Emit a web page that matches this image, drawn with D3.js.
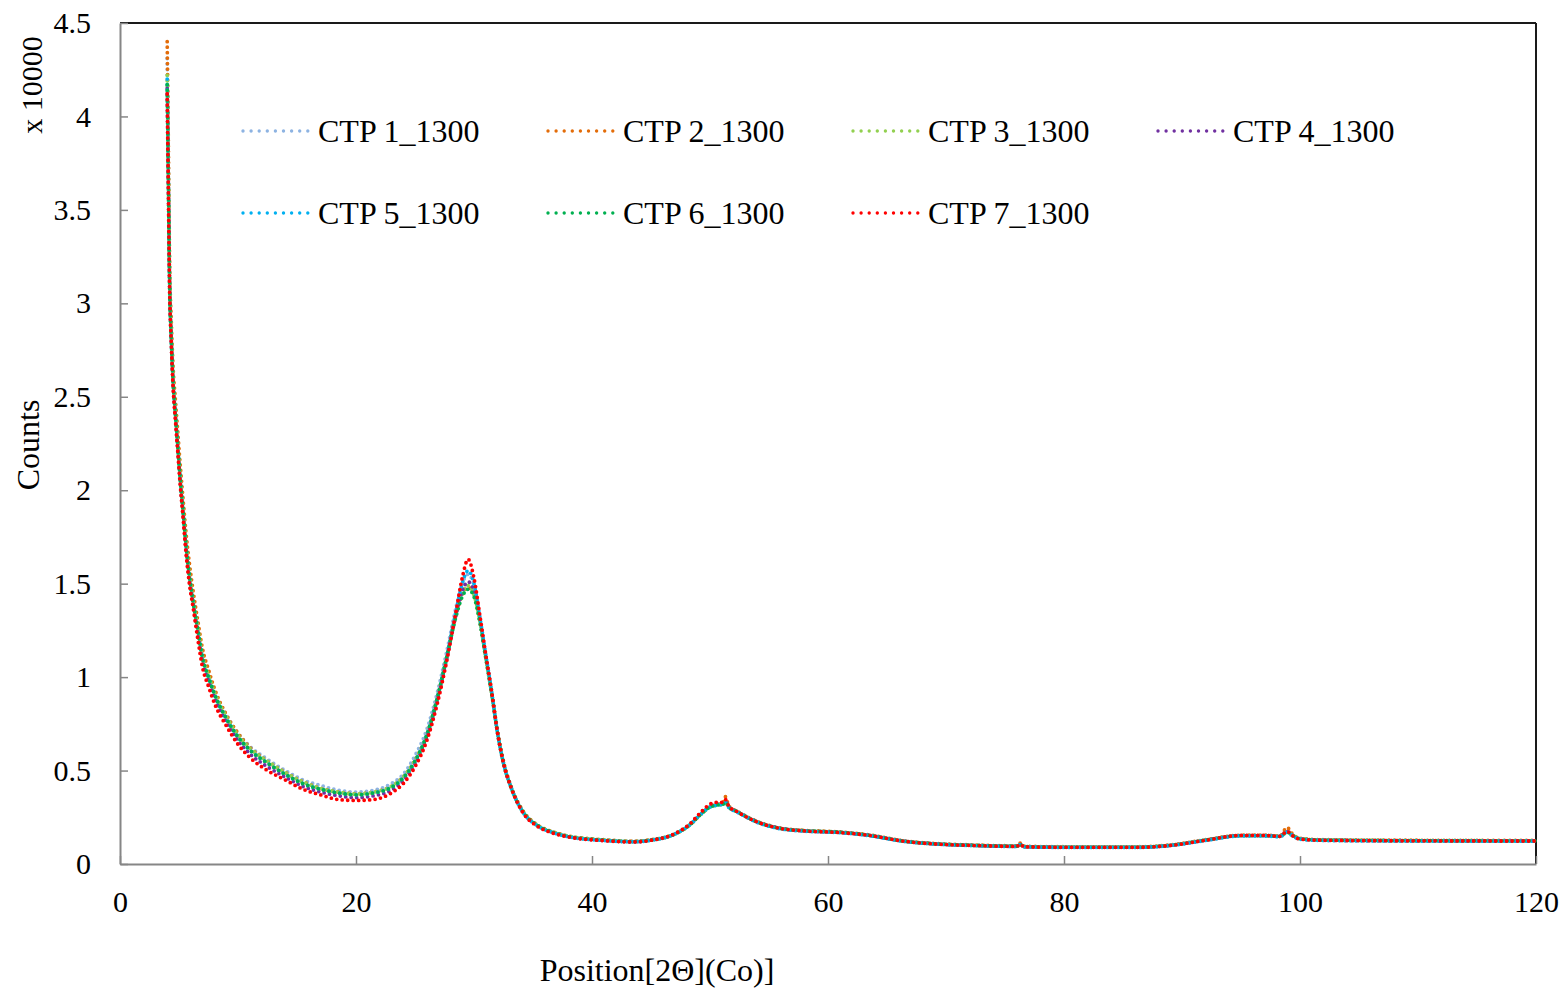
<!DOCTYPE html>
<html>
<head>
<meta charset="utf-8">
<script src="https://cdn.jsdelivr.net/npm/d3@7"></script>
<style>
  html, body { margin: 0; padding: 0; background: #fff; }
  svg { display: block; }
  text { font-family: "Times New Roman", "Liberation Serif", serif; fill: #000; }
</style>
</head>
<body>
<svg id="chart" width="1566" height="989"></svg>
<script>
// Diffraction angle 2θ (Co radiation), degrees
const twoTheta = [4.0, 4.1, 4.2, 4.35, 4.5, 4.7, 4.9, 5.1, 5.35, 5.6,
  5.9, 6.2, 6.6, 7.0, 7.5, 8, 9, 10, 11, 12.5,
  14, 15.5, 17, 18.5, 20, 21.5, 23, 24, 25, 26,
  26.9, 27.7, 28.5, 29.0, 29.5, 30.0, 30.5, 31, 31.5, 32,
  32.5, 33.2, 34.2, 35.3, 36.7, 38, 41, 43.5, 45, 47,
  48.3, 49.2, 50, 50.6, 51.1, 51.3, 51.6, 52.3, 54, 56,
  58, 61, 63, 66.7, 70, 72.3, 76, 76.3, 76.6, 81,
  86, 89, 92, 95, 97, 98.3, 98.9, 99.4, 100, 102,
  110, 120];

// Counts (x 10000) for each sample
const ctp1 = [4.31, 3.72, 3.16, 2.82, 2.60, 2.42, 2.25, 2.08, 1.90, 1.72,
  1.55, 1.42, 1.27, 1.12, 1.02, 0.93, 0.80, 0.70, 0.63, 0.56,
  0.50, 0.45, 0.42, 0.395, 0.385, 0.395, 0.43, 0.48, 0.58, 0.72,
  0.92, 1.14, 1.38, 1.50, 1.55, 1.49, 1.31, 1.11, 0.91, 0.70,
  0.54, 0.40, 0.275, 0.21, 0.17, 0.148, 0.128, 0.12, 0.128, 0.16,
  0.21, 0.265, 0.305, 0.315, 0.32, 0.335, 0.305, 0.28, 0.225, 0.19,
  0.178, 0.17, 0.158, 0.12, 0.105, 0.10, 0.095, 0.105, 0.093, 0.09,
  0.09, 0.10, 0.128, 0.152, 0.152, 0.148, 0.175, 0.152, 0.135, 0.128,
  0.125, 0.124];

const ctp2 = [4.40, 3.85, 3.25, 2.90, 2.66, 2.48, 2.31, 2.14, 1.95, 1.77,
  1.60, 1.46, 1.30, 1.15, 1.04, 0.94, 0.80, 0.70, 0.625, 0.55,
  0.49, 0.44, 0.405, 0.385, 0.375, 0.385, 0.415, 0.465, 0.555, 0.69,
  0.89, 1.11, 1.34, 1.44, 1.48, 1.44, 1.30, 1.11, 0.92, 0.71,
  0.55, 0.405, 0.28, 0.212, 0.172, 0.15, 0.13, 0.122, 0.13, 0.16,
  0.21, 0.265, 0.305, 0.318, 0.325, 0.36, 0.31, 0.282, 0.228, 0.192,
  0.18, 0.172, 0.16, 0.122, 0.107, 0.102, 0.097, 0.112, 0.095, 0.092,
  0.092, 0.102, 0.13, 0.154, 0.154, 0.15, 0.195, 0.158, 0.137, 0.13,
  0.127, 0.126];

const ctp3 = [4.22, 3.68, 3.14, 2.81, 2.59, 2.41, 2.24, 2.07, 1.89, 1.71,
  1.54, 1.41, 1.26, 1.11, 1.01, 0.92, 0.79, 0.69, 0.62, 0.55,
  0.49, 0.44, 0.405, 0.385, 0.375, 0.385, 0.415, 0.465, 0.555, 0.69,
  0.89, 1.11, 1.34, 1.45, 1.49, 1.44, 1.30, 1.10, 0.91, 0.70,
  0.54, 0.40, 0.275, 0.21, 0.17, 0.148, 0.128, 0.12, 0.128, 0.16,
  0.21, 0.265, 0.305, 0.315, 0.32, 0.33, 0.305, 0.28, 0.225, 0.19,
  0.178, 0.17, 0.158, 0.12, 0.105, 0.10, 0.095, 0.105, 0.093, 0.09,
  0.09, 0.10, 0.128, 0.152, 0.152, 0.148, 0.17, 0.152, 0.135, 0.128,
  0.125, 0.124];

const ctp4 = [4.15, 3.63, 3.11, 2.79, 2.57, 2.39, 2.22, 2.05, 1.87, 1.68,
  1.51, 1.39, 1.23, 1.08, 0.98, 0.89, 0.76, 0.66, 0.59, 0.52,
  0.465, 0.415, 0.385, 0.365, 0.355, 0.365, 0.395, 0.445, 0.535, 0.675,
  0.875, 1.10, 1.34, 1.46, 1.51, 1.46, 1.31, 1.11, 0.92, 0.70,
  0.54, 0.40, 0.272, 0.208, 0.168, 0.146, 0.126, 0.119, 0.127, 0.16,
  0.212, 0.27, 0.31, 0.322, 0.325, 0.335, 0.305, 0.28, 0.225, 0.19,
  0.177, 0.169, 0.157, 0.12, 0.104, 0.099, 0.094, 0.104, 0.092, 0.089,
  0.089, 0.099, 0.127, 0.152, 0.152, 0.148, 0.172, 0.151, 0.134, 0.127,
  0.124, 0.123];

const ctp5 = [4.20, 3.66, 3.13, 2.80, 2.58, 2.40, 2.23, 2.06, 1.88, 1.70,
  1.53, 1.40, 1.25, 1.10, 1.00, 0.91, 0.78, 0.68, 0.61, 0.54,
  0.48, 0.43, 0.40, 0.38, 0.37, 0.38, 0.41, 0.46, 0.55, 0.69,
  0.89, 1.11, 1.36, 1.50, 1.57, 1.50, 1.32, 1.12, 0.92, 0.70,
  0.54, 0.40, 0.273, 0.208, 0.168, 0.146, 0.126, 0.119, 0.127, 0.16,
  0.21, 0.265, 0.305, 0.315, 0.32, 0.33, 0.303, 0.278, 0.223, 0.188,
  0.176, 0.168, 0.156, 0.119, 0.104, 0.099, 0.094, 0.103, 0.092, 0.089,
  0.089, 0.099, 0.126, 0.15, 0.15, 0.146, 0.17, 0.15, 0.133, 0.126,
  0.123, 0.122];

const ctp6 = [4.17, 3.65, 3.12, 2.80, 2.58, 2.40, 2.23, 2.06, 1.88, 1.70,
  1.53, 1.40, 1.25, 1.10, 1.00, 0.91, 0.78, 0.68, 0.61, 0.54,
  0.48, 0.43, 0.40, 0.38, 0.37, 0.38, 0.41, 0.46, 0.55, 0.69,
  0.89, 1.11, 1.33, 1.43, 1.47, 1.43, 1.29, 1.10, 0.91, 0.70,
  0.54, 0.40, 0.275, 0.21, 0.17, 0.148, 0.128, 0.12, 0.128, 0.16,
  0.21, 0.265, 0.305, 0.315, 0.32, 0.33, 0.305, 0.28, 0.225, 0.19,
  0.178, 0.17, 0.158, 0.12, 0.105, 0.10, 0.095, 0.105, 0.093, 0.09,
  0.09, 0.10, 0.128, 0.152, 0.152, 0.148, 0.17, 0.152, 0.135, 0.128,
  0.125, 0.124];

const ctp7 = [4.12, 3.60, 3.10, 2.78, 2.55, 2.37, 2.20, 2.03, 1.85, 1.66,
  1.49, 1.37, 1.20, 1.05, 0.95, 0.86, 0.74, 0.64, 0.57, 0.50,
  0.45, 0.40, 0.37, 0.345, 0.34, 0.345, 0.38, 0.43, 0.52, 0.66,
  0.86, 1.09, 1.36, 1.53, 1.63, 1.53, 1.33, 1.12, 0.92, 0.70,
  0.54, 0.40, 0.27, 0.205, 0.165, 0.145, 0.125, 0.118, 0.127, 0.162,
  0.215, 0.275, 0.32, 0.33, 0.33, 0.345, 0.31, 0.28, 0.225, 0.19,
  0.177, 0.168, 0.157, 0.12, 0.104, 0.099, 0.094, 0.106, 0.092, 0.089,
  0.089, 0.099, 0.127, 0.153, 0.153, 0.148, 0.175, 0.15, 0.133, 0.127,
  0.124, 0.123];

const seriesNames = ["CTP 1_1300", "CTP 2_1300", "CTP 3_1300", "CTP 4_1300",
  "CTP 5_1300", "CTP 6_1300", "CTP 7_1300"];
const seriesValues = [ctp1, ctp2, ctp3, ctp4, ctp5, ctp6, ctp7];
const seriesColors = ["#8db3e2", "#e36c09", "#92d050", "#7030a0", "#00b0f0", "#00b050", "#ff0000"];

const xTicks = [0, 20, 40, 60, 80, 100, 120];
const yTicks = [0, 0.5, 1, 1.5, 2, 2.5, 3, 3.5, 4, 4.5];

const svg = d3.select("#chart");
const plot = { left: 120, right: 1536, top: 23, bottom: 864 };

const x = d3.scaleLinear().domain([0, 120]).range([plot.left, plot.right]);
const y = d3.scaleLinear().domain([0, 4.5]).range([plot.bottom, plot.top]);

// Frame: top and right edges
svg.append("line").attr("x1", plot.left).attr("x2", plot.right)
  .attr("y1", plot.top).attr("y2", plot.top)
  .attr("stroke", "#1a1a1a").attr("stroke-width", 2);
svg.append("line").attr("x1", plot.right).attr("x2", plot.right)
  .attr("y1", plot.top).attr("y2", plot.bottom)
  .attr("stroke", "#1a1a1a").attr("stroke-width", 2);

// Axes with inward ticks
const xAxis = d3.axisBottom(x).tickValues(xTicks).tickSizeInner(-8).tickSizeOuter(0)
  .tickPadding(27).tickFormat(d => String(d));
const gx = svg.append("g").attr("transform", `translate(0,${plot.bottom})`).call(xAxis);

const yAxis = d3.axisLeft(y).tickValues(yTicks).tickSizeInner(-8).tickSizeOuter(0)
  .tickPadding(29).tickFormat(d => String(d));
const gy = svg.append("g").attr("transform", `translate(${plot.left},0)`).call(yAxis);

[gx, gy].forEach(g => {
  g.select(".domain").attr("stroke", "#868686").attr("stroke-width", 2);
  g.selectAll(".tick line").attr("stroke", "#868686").attr("stroke-width", 1.5);
  g.selectAll(".tick text").attr("font-size", 30)
    .attr("font-family", '"Times New Roman", "Liberation Serif", serif').attr("fill", "#000");
});

// Data series as round-dotted lines, CTP 7 drawn last
const line = d3.line().x((d, i) => x(twoTheta[i])).y(d => y(d)).curve(d3.curveMonotoneX);
const gSeries = svg.append("g");
seriesValues.forEach((vals, k) => {
  gSeries.append("path")
    .attr("d", line(vals))
    .attr("fill", "none")
    .attr("stroke", seriesColors[k])
    .attr("stroke-width", 3.8)
    .attr("stroke-linecap", "round")
    .attr("stroke-dasharray", "0 5.5");
});

// Legend
const legendCols = [241, 546, 851, 1156];
const legendRows = [131, 213];
seriesNames.forEach((name, k) => {
  const cx = legendCols[k % 4];
  const cy = legendRows[Math.floor(k / 4)];
  const g = svg.append("g").attr("transform", `translate(${cx},${cy})`);
  g.append("line").attr("x1", 2).attr("x2", 67).attr("y1", 0).attr("y2", 0)
    .attr("stroke", seriesColors[k]).attr("stroke-width", 3.4)
    .attr("stroke-linecap", "round").attr("stroke-dasharray", "0 8.1");
  g.append("text").attr("x", 77).attr("y", 0).attr("dy", "0.35em")
    .attr("font-size", 32).text(name);
});

// Axis titles
svg.append("text").attr("x", 657).attr("y", 970).attr("dy", "0.35em")
  .attr("text-anchor", "middle").attr("font-size", 32).text("Position[2Θ](Co)]");
svg.append("text").attr("transform", "translate(28,445) rotate(-90)")
  .attr("text-anchor", "middle").attr("dy", "0.35em").attr("font-size", 32).text("Counts");
svg.append("text").attr("transform", "translate(31,85) rotate(-90)")
  .attr("text-anchor", "middle").attr("dy", "0.35em").attr("font-size", 30).text("x 10000");
</script>
</body>
</html>
